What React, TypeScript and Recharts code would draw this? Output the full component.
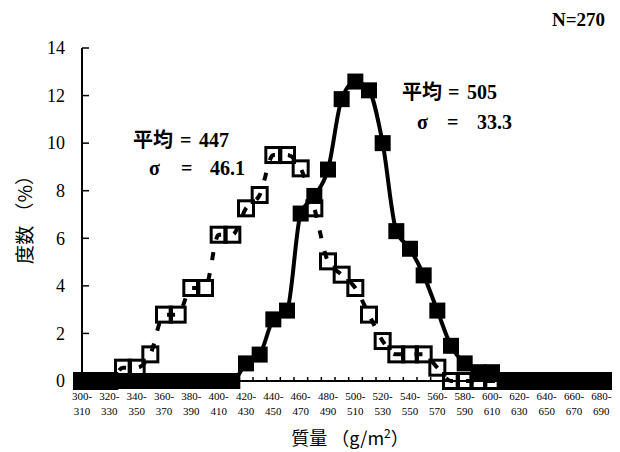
import React from "react";
import { LineChart, Line, XAxis, YAxis } from "recharts";

// 質量区分 (g/m2)
const bins = [
  "300-310", "310-320", "320-330", "330-340", "340-350", "350-360", "360-370", "370-380",
  "380-390", "390-400", "400-410", "410-420", "420-430", "430-440", "440-450", "450-460",
  "460-470", "470-480", "480-490", "490-500", "500-510", "510-520", "520-530", "530-540",
  "540-550", "550-560", "560-570", "570-580", "580-590", "590-600", "600-610", "610-620",
  "620-630", "630-640", "640-650", "650-660", "660-670", "670-680", "680-690", "690-700",
];

// 平均 = 447 (open squares, dashed)
const lowPct = [
  0, 0, 0, 0.56, 0.56, 1.12, 2.79, 2.79, 3.91, 3.91, 6.15, 6.15, 7.26, 7.82, 9.5, 9.5,
  8.94, 7.26, 5.03, 4.47, 3.91, 2.79, 1.68, 1.12, 1.12, 1.12, 0.56, 0, 0, 0, 0, 0,
  0, 0, 0, 0, 0, 0, 0, 0,
];

// 平均 = 505 (filled squares, solid)
const highPct = [
  0, 0, 0, 0, 0, 0, 0, 0, 0, 0, 0, 0, 0.74, 1.11, 2.59, 2.96,
  7.04, 7.78, 8.89, 11.85, 12.59, 12.22, 10.0, 6.3, 5.56, 4.44, 2.96, 1.48, 0.74, 0.37, 0.37, 0,
  0, 0, 0, 0, 0, 0, 0, 0,
];

const yTicks = [0, 2, 4, 6, 8, 10, 12, 14];

const data = bins.map((bin, i) => ({ bin, low: lowPct[i], high: highPct[i] }));

const W = 612;
const H = 444;
const margin = { top: 40, right: 5, bottom: 31, left: 14 };
const PLOT_W = W - margin.left - margin.right - 60;
const BAND = PLOT_W / bins.length;

const serif = { fontFamily: "Liberation Serif, serif" };
const cjk = { fontFamily: "Noto Sans CJK JP, sans-serif" };

const XTick = (props: any) => {
  const { x, y, payload } = props;
  const idx = bins.indexOf(payload.value);
  const [a, b] = String(payload.value).split("-");
  return (
    <g>
      <line x1={x - BAND / 2} x2={x - BAND / 2} y1={y} y2={y - 4} stroke="#000" strokeWidth={1.5} />
      {idx % 2 === 0 && (
        <text textAnchor="middle" style={serif} fontSize={11} fill="#000">
          <tspan x={x} y={y + 19}>{a}-</tspan>
          <tspan x={x} y={y + 34}>{b}</tspan>
        </text>
      )}
    </g>
  );
};

const YTick = (props: any) => {
  const { x, y, payload } = props;
  return (
    <g>
      <line x1={x} x2={x + 7} y1={y} y2={y} stroke="#000" strokeWidth={1.5} />
      <text x={x - 17} y={y} dy="0.35em" textAnchor="end" style={serif} fontSize={18} fill="#000">
        {payload.value}
      </text>
    </g>
  );
};

const FilledSquare = (props: any) => {
  const { cx, cy, index } = props;
  if (cx == null || cy == null) return <g key={`f-${index}`} />;
  return <rect key={`f-${index}`} x={cx - 8} y={cy - 8} width={16} height={16} fill="#000" />;
};

const OpenSquare = (props: any) => {
  const { cx, cy, index } = props;
  if (cx == null || cy == null) return <g key={`o-${index}`} />;
  return (
    <rect key={`o-${index}`} x={cx - 7.5} y={cy - 7.5} width={15} height={15} fill="none" stroke="#000" strokeWidth={3} />
  );
};

export default function App() {
  return (
    <div style={{ position: "relative", width: W, height: H }}>
      <LineChart width={W} height={H} data={data} margin={margin}>
        <XAxis
          dataKey="bin"
          interval={0}
          tickSize={0}
          tickMargin={0}
          tickLine={false}
          tick={<XTick />}
          height={40}
          axisLine={{ stroke: "#000", strokeWidth: 2 }}
        />
        <XAxis
          xAxisId="top"
          dataKey="bin"
          orientation="top"
          height={0}
          tick={false}
          tickLine={false}
          axisLine={{ stroke: "#000", strokeWidth: 2 }}
        />
        <YAxis
          type="number"
          domain={[0, 14]}
          ticks={yTicks}
          interval={0}
          width={60}
          tickSize={0}
          tickMargin={0}
          tickLine={false}
          tick={<YTick />}
          axisLine={{ stroke: "#000", strokeWidth: 2 }}
        />
        <YAxis
          yAxisId="right"
          orientation="right"
          type="number"
          domain={[0, 14]}
          width={0}
          tick={false}
          tickLine={false}
          axisLine={{ stroke: "#000", strokeWidth: 2 }}
        />
        <Line
          dataKey="low"
          type="monotone"
          stroke="#000"
          strokeWidth={4}
          strokeDasharray="8 13"
          dot={<OpenSquare />}
          activeDot={false}
          isAnimationActive={false}
        />
        <Line
          dataKey="high"
          type="monotone"
          stroke="#000"
          strokeWidth={4}
          dot={<FilledSquare />}
          activeDot={false}
          isAnimationActive={false}
        />
      </LineChart>
      <svg
        width={W}
        height={H}
        style={{ position: "absolute", left: 0, top: 0, pointerEvents: "none" }}
      >
        <text x={597} y={18} textAnchor="end" style={serif} fontWeight="bold" fontSize={19} fill="#000">
          N=270
        </text>
        <text y={139} style={serif} fontWeight="bold" fontSize={20} fill="#000">
          <tspan x={125} style={cjk}>平均</tspan>
          <tspan x={172}>=</tspan>
          <tspan x={191}>447</tspan>
        </text>
        <text y={167} style={serif} fontWeight="bold" fontSize={20} fill="#000">
          <tspan x={141}>σ</tspan>
          <tspan x={173}>=</tspan>
          <tspan x={202}>46.1</tspan>
        </text>
        <text y={91} style={serif} fontWeight="bold" fontSize={20} fill="#000">
          <tspan x={394} style={cjk}>平均</tspan>
          <tspan x={440}>=</tspan>
          <tspan x={459}>505</tspan>
        </text>
        <text y={121} style={serif} fontWeight="bold" fontSize={20} fill="#000">
          <tspan x={409}>σ</tspan>
          <tspan x={439}>=</tspan>
          <tspan x={469}>33.3</tspan>
        </text>
        <text
          transform="translate(17, 207) rotate(-90)"
          textAnchor="middle"
          dy="0.35em"
          style={cjk}
          fontSize={19}
          fill="#000"
        >
          度数 （%）
        </text>
        <text x={342} y={437} textAnchor="middle" style={cjk} fontSize={18} fill="#000">
          質量 （g/m<tspan dy={-7} fontSize={12}>2</tspan>
          <tspan dy={7}>）</tspan>
        </text>
      </svg>
    </div>
  );
}
